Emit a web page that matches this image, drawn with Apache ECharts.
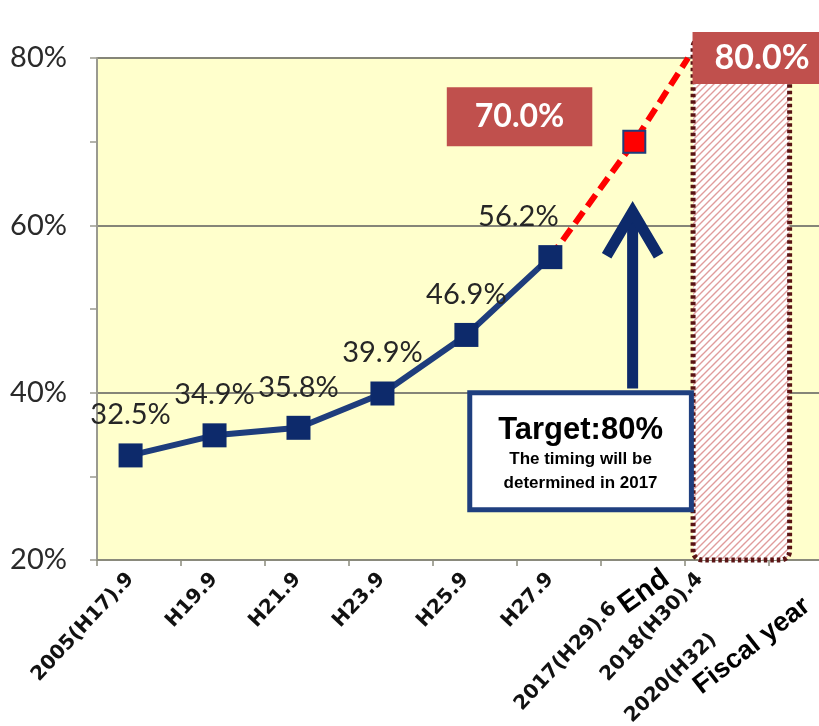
<!DOCTYPE html>
<html><head><meta charset="utf-8">
<script src="https://cdn.jsdelivr.net/npm/echarts@6/dist/echarts.min.js"></script>
<style>html,body{margin:0;padding:0;background:#fff}#c{width:819px;height:726px}</style>
</head><body><div id="c"></div>
<script>
// ---- data ----
const xLabels = ['2005(H17).9','H19.9','H21.9','H23.9','H25.9','H27.9','2017(H29).6','2018(H30).4'];
const xLabelPos = [0.4, 1.4, 2.39, 3.39, 4.39, 5.4, 6.48, 7.18];
const actualX = [0.4, 1.4, 2.4, 3.4, 4.4, 5.4];
const actualY = [32.5, 34.9, 35.8, 39.9, 46.9, 56.2];
const planX = [5.4, 6.4, 7.04];
const planY = [56.2, 70.0, 80.0];
const planLabels = ['', '70.0%', '80.0%'];
const xTickValues = [0, 1, 2, 3, 4, 5, 6, 7, 8];
const targetTitle = 'Target:80%';
const targetLines = ['The timing will be', 'determined in 2017'];
const extraTexts = ['End', '2020(H32)', 'Fiscal year'];
// target period region [x0, x1, yTop, yBottom]
const targetRegion = [[7.1, 8.25, 82.4, 20]];
// annotation box [x0, x1, yTop, yBottom] and arrow [x, yTip, yBottom]
const noteBox = [[4.44, 7.08, 40, 26, 6.38, 62.1, 40.5]];

// hatch pattern
const pc = document.createElement('canvas');
pc.width = 7; pc.height = 7;
const g = pc.getContext('2d');
g.fillStyle = '#ffffff'; g.fillRect(0, 0, 7, 7);
g.strokeStyle = '#e09c9c'; g.lineWidth = 1.4;
g.beginPath();
g.moveTo(-1, 8); g.lineTo(8, -1);
g.moveTo(-1, 1); g.lineTo(1, -1);
g.moveTo(6, 8); g.lineTo(8, 6);
g.stroke();

const chart = echarts.init(document.getElementById('c'), null, {renderer: 'canvas'});

const navy = '#0d2a6b';
const lineBlue = '#1e3d7c';

const actualData = actualX.map((x, i) => {
  const d = {value: [x, actualY[i]]};
  if (i === actualX.length - 1) d.label = {offset: [-32, 0]};
  return d;
});
const planData = planX.map((x, i) => {
  const d = {value: [x, planY[i]]};
  if (i === 1) {
    d.symbol = 'rect'; d.symbolSize = 22;
    d.itemStyle = {color: '#ff0000', borderColor: lineBlue, borderWidth: 2};
    d.label = {show: true, position: 'left', distance: 30, offset: [0, -25],
      formatter: planLabels[i], backgroundColor: '#c0504d', color: '#fff',
      fontFamily: 'Lato', fontWeight: 'bold', fontSize: 32, padding: [14, 28, 13, 28]};
  } else if (i === 2) {
    d.symbol = 'circle'; d.symbolSize = 1;
    d.label = {show: true, position: 'right', distance: 4,
      formatter: planLabels[i], backgroundColor: '#c0504d', color: '#fff',
      fontFamily: 'Lato', fontWeight: 'bold', fontSize: 34, padding: [9, 30, 9, 22]};
  } else {
    d.symbol = 'circle'; d.symbolSize = 1;
  }
  return d;
});

const option = {
  backgroundColor: '#ffffff',
  animation: false,
  grid: {left: 97, top: 58, right: 0, bottom: 166, show: true,
    backgroundColor: '#ffffcc', borderWidth: 0},
  xAxis: {
    type: 'value', min: 0, max: 8.6,
    axisLine: {onZero: false, lineStyle: {color: '#8a8a7c', width: 2}},
    axisTick: {show: true, customValues: xTickValues, length: 6, lineStyle: {color: '#8a8a7c', width: 1.5}},
    splitLine: {show: false},
    axisLabel: {
      customValues: xLabelPos, rotate: 47, margin: 16,
      fontFamily: 'DejaVu Sans', fontWeight: 'bold', fontSize: 20, color: '#111',
      formatter: (v) => {
        const i = xLabelPos.indexOf(v);
        if (i < 0) return '';
        return i === 6 ? '{p|' + xLabels[i] + '}' : xLabels[i];
      },
      rich: {p: {fontFamily: 'DejaVu Sans', fontWeight: 'bold', fontSize: 20, color: '#111', padding: [0, 40, 0, 0]}}
    }
  },
  yAxis: {
    type: 'value', min: 20, max: 80, interval: 20,
    axisLine: {show: true, lineStyle: {color: '#9a9a90', width: 2}},
    axisTick: {show: true, length: 7, lineStyle: {color: '#9a9a90', width: 1.5}},
    minorTick: {show: true, splitNumber: 2, length: 7, lineStyle: {color: '#9a9a90', width: 1.5}},
    minorSplitLine: {show: false},
    splitLine: {show: true, lineStyle: {color: '#858578', width: 2}},
    axisLabel: {margin: 30, fontFamily: 'Lato', fontSize: 29, color: '#2a2a2a',
      formatter: (v) => v + '%'}
  },
  series: [
    {
      type: 'custom', name: 'region', z: 1, clip: false,
      data: targetRegion,
      renderItem: (params, api) => {
        const p0 = api.coord([api.value(0), api.value(2)]);
        const p1 = api.coord([api.value(1), api.value(3)]);
        return {type: 'rect',
          shape: {x: p0[0], y: p0[1], width: p1[0] - p0[0], height: p1[1] - p0[1], r: 9},
          style: {fill: {image: pc, repeat: 'repeat'}, stroke: '#5a1414', lineWidth: 5, lineDash: [3.5, 3]}};
      }
    },
    {
      type: 'line', name: 'plan', z: 3,
      data: planData,
      lineStyle: {color: '#ff0000', width: 6, type: [14, 7]},
      itemStyle: {color: '#ff0000'},
      label: {show: false},
      emphasis: {disabled: true}
    },
    {
      type: 'line', name: 'actual', z: 4,
      data: actualData,
      symbol: 'rect', symbolSize: 24,
      lineStyle: {color: lineBlue, width: 6},
      itemStyle: {color: navy},
      label: {show: true, position: 'top', distance: 14, fontFamily: 'Lato', fontSize: 29, color: '#262626',
        formatter: (p) => p.value[1].toFixed(1) + '%'},
      emphasis: {disabled: true}
    },
    {
      type: 'custom', name: 'note', z: 5, clip: false,
      data: noteBox,
      renderItem: (params, api) => {
        const a = api.coord([api.value(0), api.value(2)]);
        const b = api.coord([api.value(1), api.value(3)]);
        const tip = api.coord([api.value(4), api.value(5)]);
        const bot = api.coord([api.value(4), api.value(6)]);
        const cx = (a[0] + b[0]) / 2;
        return {type: 'group', children: [
          {type: 'polyline', shape: {points: [[tip[0], bot[1]], [tip[0], tip[1] + 4]]},
            style: {stroke: navy, lineWidth: 11, fill: null}},
          {type: 'polyline', shape: {points: [[tip[0] - 26, tip[1] + 48], [tip[0], tip[1] + 4], [tip[0] + 26, tip[1] + 48]]},
            style: {stroke: navy, lineWidth: 11, fill: null, lineJoin: 'miter', lineCap: 'butt'}},
          {type: 'rect', shape: {x: a[0], y: a[1], width: b[0] - a[0], height: b[1] - a[1]},
            style: {fill: '#ffffff', stroke: '#1f3f7f', lineWidth: 5}},
          {type: 'text', style: {text: targetTitle, x: cx, y: a[1] + 38, align: 'center', verticalAlign: 'middle',
            fill: '#000', fontFamily: 'Liberation Sans', fontWeight: 'bold', fontSize: 31}},
          {type: 'text', style: {text: targetLines[0], x: cx, y: a[1] + 67, align: 'center', verticalAlign: 'middle',
            fill: '#000', fontFamily: 'Liberation Sans', fontWeight: 'bold', fontSize: 17}},
          {type: 'text', style: {text: targetLines[1], x: cx, y: a[1] + 91, align: 'center', verticalAlign: 'middle',
            fill: '#000', fontFamily: 'Liberation Sans', fontWeight: 'bold', fontSize: 17}}
        ]};
      }
    }
  ],
  graphic: [
    {type: 'text', x: 644, y: 592, rotation: 36 * Math.PI / 180,
      style: {text: extraTexts[0], align: 'center', verticalAlign: 'middle', fill: '#000',
        fontFamily: 'Liberation Sans', fontWeight: 'bold', fontSize: 29}},
    {type: 'text', x: 671, y: 678, rotation: 44 * Math.PI / 180,
      style: {text: extraTexts[1], align: 'center', verticalAlign: 'middle', fill: '#111',
        fontFamily: 'DejaVu Sans', fontWeight: 'bold', fontSize: 20}},
    {type: 'text', x: 752, y: 646, rotation: 38 * Math.PI / 180,
      style: {text: extraTexts[2], align: 'center', verticalAlign: 'middle', fill: '#000',
        fontFamily: 'Liberation Sans', fontWeight: 'bold', fontSize: 27}}
  ]
};
chart.setOption(option);
</script>
</body></html>
